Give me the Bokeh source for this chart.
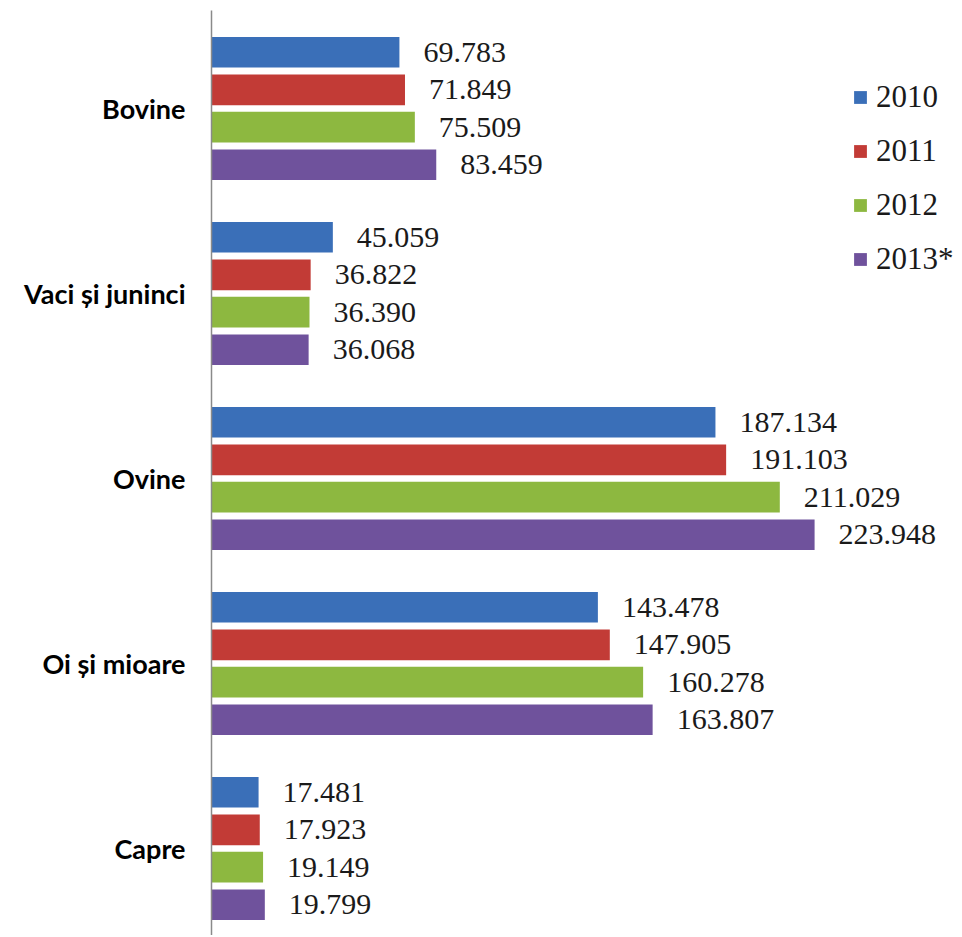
from bokeh.plotting import figure
from bokeh.models import ColumnDataSource, Range1d, FixedTicker, Legend, LegendItem, LabelSet
from bokeh.core.properties import value
from bokeh.embed import file_html
from bokeh.resources import INLINE

categories = ["Bovine", "Vaci și juninci", "Ovine", "Oi și mioare", "Capre"]
years = ["2010", "2011", "2012", "2013*"]
v2010 = [69.783, 45.059, 187.134, 143.478, 17.481]
v2011 = [71.849, 36.822, 191.103, 147.905, 17.923]
v2012 = [75.509, 36.390, 211.029, 160.278, 19.149]
v2013 = [83.459, 36.068, 223.948, 163.807, 19.799]
series = [v2010, v2011, v2012, v2013]
colors = ["#3a6fb8", "#c23b36", "#8db840", "#6f529c"]
offsets = [-0.304, -0.101, 0.101, 0.304]

W, H = 960, 935
TOP, LEFT = 10, 211
frame_h = H - TOP
p = figure(width=W, height=H, output_backend="svg", toolbar_location=None,
           x_range=Range1d(0, (W - LEFT) / 2.693),
           y_range=Range1d((frame_h + TOP - 108) / 185, -(108 - TOP) / 185),
           min_border_left=LEFT, min_border_right=0, min_border_top=TOP, min_border_bottom=0)
p.outline_line_color = None
p.xgrid.visible = False
p.ygrid.visible = False
p.xaxis.visible = False
p.background_fill_color = "white"

items = []
for i, (vals, col, off, yr) in enumerate(zip(series, colors, offsets, years)):
    ys = [k + off for k in range(len(categories))]
    src = ColumnDataSource(dict(y=ys, x=vals, lab=[f"{v:.3f}" for v in vals]))
    r = p.hbar(y="y", right="x", left=0, height=0.166, source=src,
               fill_color=col, line_color=None)
    items.append(LegendItem(label=yr, renderers=[r]))
    lbl = LabelSet(x="x", y="y", text="lab", source=src, x_offset=24,
                   text_baseline="middle", text_align="left",
                   text_font=value("Liberation Serif"), text_font_size="30px",
                   text_color="#1a1a1a")
    p.add_layout(lbl)

yax = p.yaxis[0]
yax.ticker = FixedTicker(ticks=list(range(len(categories))))
yax.major_label_overrides = {k: c for k, c in enumerate(categories)}
yax.major_label_text_font = "Lato"
yax.major_label_text_font_style = "bold"
yax.major_label_text_font_size = "27px"
yax.major_label_text_color = "#000000"
yax.major_tick_line_color = None
yax.minor_tick_line_color = None
yax.axis_line_color = "#8a8a8a"
yax.axis_line_width = 1.5
yax.major_label_standoff = 20

legend = Legend(items=items, location=(641, 658), orientation="vertical",
                glyph_width=16, glyph_height=16, label_text_font="Liberation Serif",
                label_text_font_size="31px", label_text_color="#1a1a1a",
                label_standoff=8, spacing=18, padding=0, margin=0,
                border_line_color=None, background_fill_alpha=0)
p.add_layout(legend)

open("out.html", "w").write(file_html(p, INLINE))
